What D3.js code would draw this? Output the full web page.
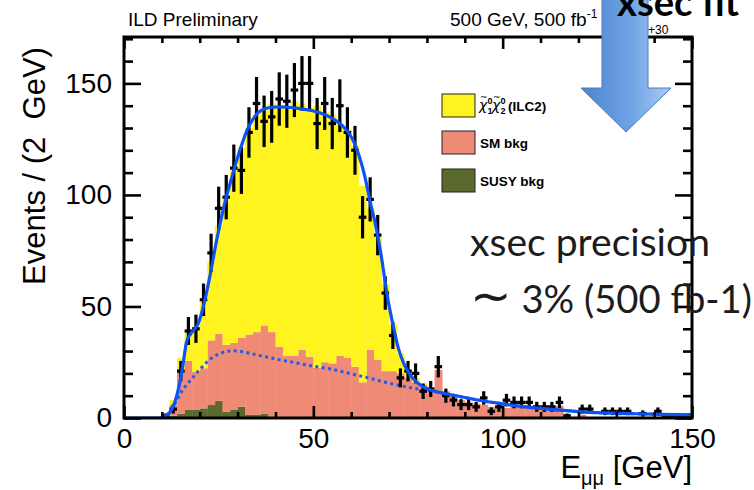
<!DOCTYPE html>
<html>
<head>
<meta charset="utf-8">
<script src="https://cdn.jsdelivr.net/npm/d3@7"></script>
<style>
  html, body { margin: 0; padding: 0; background: #fff; }
  svg { display: block; }
</style>
</head>
<body>
<svg id="chart" width="754" height="490"></svg>
<script>
// ---- Binning: 2 GeV bins covering 0 - 150 GeV ----
const binLow = d3.range(0, 150, 2);

// ---- Stacked MC expectations (events / 2 GeV), one value per bin ----
const susyBkg = [
  0, 0, 0, 0, 0, 0, 1, 2, 3.6, 3.6,
  4.3, 5.8, 7.7, 2.8, 3.6, 5, 1.4, 1.5, 2, 0.5,
  0, 0, 0, 0, 0, 0, 0, 0, 0, 0,
  0, 0, 0, 0, 0, 0, 0, 0, 0, 0,
  0, 0, 0, 0, 0, 0, 0, 0, 0, 0,
  0, 0, 0, 0, 0, 0, 0, 0, 0, 0,
  0, 0, 0, 0, 0, 0, 0, 0, 0, 0,
  0, 0, 0, 0, 0
];
const smBkg = [
  0, 0, 0, 0, 0, 0.5, 5, 20, 22, 17,
  18, 29, 30, 30, 30, 31, 36, 37, 39.5, 38,
  32, 28, 28, 30.5, 27.5, 22.5, 25, 24.5, 28, 27,
  23, 16, 30.5, 26, 21, 21, 20, 18, 16, 15,
  13, 21.5, 12, 10, 8, 7, 6.5, 6, 5, 4.5,
  4.5, 5, 5.5, 5, 4.5, 4.5, 4, 5.5, 0.8, 0.5,
  1.5, 0.4, 0.3, 0, 0, 0, 0, 0, 0, 0,
  0, 0, 0, 0, 0
];
const signal = [
  0, 0, 0, 0, 0.3, 1, 2, 5, 12.4, 20.4,
  29.7, 35.2, 48.3, 66.2, 77.4, 85, 92.6, 97.5, 96.5, 102.5,
  107, 112, 114, 110.5, 111.5, 117.5, 112, 111.5, 104, 102,
  99, 88, 63.5, 55, 39, 21, 9, 4, 2, 0.5,
  0.5, 0, 0, 0, 0, 0, 0, 0, 0, 0,
  0, 0, 0, 0, 0, 0, 0, 0, 0, 0,
  0, 0, 0, 0, 0, 0, 0, 0, 0, 0,
  0, 0, 0, 0, 0
];

// ---- Observed counts per bin (null = empty bin) ----
const dataCounts = [
  null, null, null, null, null, 1, 4, 21, 39, 40,
  53, 74, 94, 99, 112, 111, 128, 141, 133, 135,
  143, 142, 147, 150, 150, 132, 141, 132, 140, 128,
  120, 90, 98, 82, 56, 37, 18, 21, 20, 12,
  13, 23, 10, 8, 6, 6, 5, 9, 3, 5,
  8, 7, 7, 7, 5, 5, 5, 7, 1, null,
  4, 4, null, 3, 3, 3, 3, null, 2, null,
  3, 1, 1, 1, 1
];

// ---- Fit results: signal + background, sampled in E (GeV) ----
const fitTotalE = [0, 9.5, 10.5, 11.5, 12.5, 13.5, 14.5, 15.5, 16.5, 17.5, 18.5, 19.5, 20.5, 21.5, 22.5,
  23.5, 24.5, 25.5, 26.5, 27.5, 28.5, 29.5, 30.5, 31.5, 32.5, 33.5, 34.5, 35.5, 37, 39, 41, 43, 45,
  47, 49, 51, 53, 55, 57, 59, 60.5, 62, 63.5, 65, 66.5, 68, 69.5, 71, 72.5, 74, 75.5, 77, 79, 81,
  84, 87, 90, 95, 100, 105, 110, 115, 120, 125, 130, 135, 140, 145, 150];
const fitTotalV = [0, 0, 0.6, 1.6, 3.5, 7.5, 14, 23, 34, 37.5, 39.5, 42, 47, 54, 62,
  71, 80, 88, 95.5, 102, 108, 114, 119.5, 124.5, 129, 132.5, 135, 137, 138.5, 139.3, 139.5, 139.3, 139,
  138.5, 138, 137.2, 136, 134.3, 132, 128.5, 124.5, 118, 109, 97, 86, 72, 55, 42, 31, 24, 19.5, 16.5, 14, 12.5,
  11.2, 10.2, 9.2, 7.6, 6.3, 5.2, 4.3, 3.5, 2.9, 2.4, 2.1, 1.9, 1.7, 1.5, 1.4];

// ---- Fit results: background component only ----
const fitBkgE = [10, 11, 12, 13, 14, 15, 16.5, 18, 19.5, 21, 22.5, 24, 25.5, 27, 29, 31, 33, 35, 38,
  42, 46, 50, 55, 60, 65, 70, 75, 80, 84, 87, 90, 95, 100, 105, 110, 115, 120, 125, 130, 135, 140, 145, 150];
const fitBkgV = [0, 0.8, 2.5, 5, 8, 11.2, 14.8, 17.8, 20.8, 23.5, 26, 27.8, 29, 29.8, 30.1, 29.8, 29.1, 28.3, 27.2,
  25.8, 24.5, 23.2, 21.8, 19.8, 17.8, 15.6, 13.8, 12.4, 11.2, 10.2, 9.2, 7.6, 6.3, 5.2, 4.3, 3.5, 2.9, 2.4, 2.1, 1.9, 1.7, 1.5, 1.4];

// ---- Axis ticks ----
const xMajorTicks = [0, 50, 100, 150];
const xMinorTicks = [10, 20, 30, 40, 60, 70, 80, 90, 110, 120, 130, 140];
const yMajorTicks = [0, 50, 100, 150];
const yMinorTicks = [10, 20, 30, 40, 60, 70, 80, 90, 110, 120, 130, 140, 160, 170];

// ---- Legend entries ----
const legendKeys = ["sig", "sm", "susy"];
const legendLabels = { sm: "SM bkg", susy: "SUSY bkg" };

const colors = { susy: "#5a6a2e", sm: "#ef8a77", sig: "#fff41f" };
const fitColor = "#0d52f4";
const axisFont = "'Liberation Sans', Arial, Helvetica, sans-serif";
const slideFont = "Lato, 'Open Sans', sans-serif";

const svg = d3.select("#chart");
const x = d3.scaleLinear().domain([0, 150]).range([124, 692]);
const y = d3.scaleLinear().domain([0, 170.8]).range([418, 37]);

const defs = svg.append("defs");
defs.append("clipPath").attr("id", "plotClip")
  .append("rect").attr("x", x(0)).attr("y", y(170.8))
  .attr("width", x(150) - x(0)).attr("height", y(0) - y(170.8));

svg.append("rect").attr("width", 754).attr("height", 490).attr("fill", "#fff");

const plot = svg.append("g").attr("clip-path", "url(#plotClip)");

// ---- Stacked histogram ----
const rows = binLow.map((lo, i) => ({ lo, susy: susyBkg[i], sm: smBkg[i], sig: signal[i] }));
const stacked = d3.stack().keys(["susy", "sm", "sig"])(rows);
const bw = x(2) - x(0);
plot.selectAll("g.layer").data(stacked).join("g")
  .attr("class", "layer")
  .attr("fill", d => colors[d.key])
  .selectAll("rect").data(d => d.filter(s => s[1] > s[0])).join("rect")
  .attr("x", d => x(d.data.lo))
  .attr("width", bw + 0.4)
  .attr("y", d => y(d[1]))
  .attr("height", d => y(d[0]) - y(d[1]));

// ---- Background fit (dotted) ----
const line = d3.line().x(d => x(d[0])).y(d => y(d[1])).curve(d3.curveMonotoneX);
plot.append("path")
  .datum(d3.zip(fitBkgE, fitBkgV))
  .attr("d", line)
  .attr("fill", "none")
  .attr("stroke", "#1f5ee8")
  .attr("stroke-width", 3)
  .attr("stroke-dasharray", "3 3.4");

// ---- Data points with statistical error bars ----
const pts = binLow.map((lo, i) => ({ lo, n: dataCounts[i] })).filter(d => d.n !== null);
const pg = plot.append("g").attr("stroke", "#000").attr("stroke-width", 3.2);
pg.selectAll("line.v").data(pts).join("line")
  .attr("class", "v")
  .attr("x1", d => x(d.lo + 1)).attr("x2", d => x(d.lo + 1))
  .attr("y1", d => y(d.n - Math.sqrt(d.n))).attr("y2", d => y(d.n + Math.sqrt(d.n)));
pg.selectAll("line.h").data(pts).join("line")
  .attr("class", "h")
  .attr("x1", d => x(d.lo)).attr("x2", d => x(d.lo + 2))
  .attr("y1", d => y(d.n)).attr("y2", d => y(d.n));

// ---- Total fit (solid) ----
plot.append("path")
  .datum(d3.zip(fitTotalE, fitTotalV))
  .attr("d", line)
  .attr("fill", "none")
  .attr("stroke", fitColor)
  .attr("stroke-width", 3.2);

// ---- Axes with inward ticks ----
function styleAxis(g) {
  g.select(".domain").remove();
  g.selectAll(".tick line").attr("stroke", "#000").attr("stroke-width", 2.6);
  g.selectAll(".tick text").attr("font-family", axisFont).attr("font-size", 28).attr("fill", "#000");
}
svg.append("g").attr("transform", `translate(0,${y(0)})`)
  .call(d3.axisBottom(x).tickValues(xMajorTicks).tickSize(-12).tickPadding(10).tickFormat(d3.format("d")))
  .call(styleAxis);
svg.append("g").attr("transform", `translate(0,${y(0)})`)
  .call(d3.axisBottom(x).tickValues(xMinorTicks).tickSize(-6).tickFormat(""))
  .call(styleAxis);
svg.append("g").attr("transform", `translate(0,${y(170.8)})`)
  .call(d3.axisTop(x).tickValues(xMajorTicks).tickSize(-12).tickFormat(""))
  .call(styleAxis);
svg.append("g").attr("transform", `translate(0,${y(170.8)})`)
  .call(d3.axisTop(x).tickValues(xMinorTicks).tickSize(-6).tickFormat(""))
  .call(styleAxis);
svg.append("g").attr("transform", `translate(${x(0)},0)`)
  .call(d3.axisLeft(y).tickValues(yMajorTicks).tickSize(-17).tickPadding(12).tickFormat(d3.format("d")))
  .call(styleAxis);
svg.append("g").attr("transform", `translate(${x(0)},0)`)
  .call(d3.axisLeft(y).tickValues(yMinorTicks).tickSize(-9).tickFormat(""))
  .call(styleAxis);
svg.append("g").attr("transform", `translate(${x(150)},0)`)
  .call(d3.axisRight(y).tickValues(yMajorTicks).tickSize(-17).tickFormat(""))
  .call(styleAxis);
svg.append("g").attr("transform", `translate(${x(150)},0)`)
  .call(d3.axisRight(y).tickValues(yMinorTicks).tickSize(-9).tickFormat(""))
  .call(styleAxis);

// Frame
svg.append("rect")
  .attr("x", x(0)).attr("y", y(170.8))
  .attr("width", x(150) - x(0)).attr("height", y(0) - y(170.8))
  .attr("fill", "none").attr("stroke", "#000").attr("stroke-width", 3);

// ---- Axis titles ----
svg.append("text")
  .attr("transform", "translate(45,166) rotate(-90)")
  .attr("text-anchor", "middle")
  .attr("font-family", axisFont).attr("font-size", 31)
  .style("white-space", "pre")
  .text("Events / (2  GeV)");

const xt = svg.append("text")
  .attr("x", x(150)).attr("y", 478)
  .attr("text-anchor", "end")
  .attr("font-family", axisFont).attr("font-size", 31);
xt.append("tspan").text("E");
xt.append("tspan").attr("font-size", 20).attr("dy", 7).text("μμ");
xt.append("tspan").attr("dy", -7).style("white-space", "pre").text(" [GeV]");

// ---- Header texts ----
svg.append("text")
  .attr("x", 128).attr("y", 26)
  .attr("font-family", axisFont).attr("font-size", 19)
  .text("ILD Preliminary");
const hdr = svg.append("text")
  .attr("x", 450).attr("y", 26)
  .attr("font-family", axisFont).attr("font-size", 19);
hdr.append("tspan").text("500 GeV, 500 fb");
hdr.append("tspan").attr("font-size", 12).attr("dy", -8).text("-1");
svg.append("text")
  .attr("x", 648).attr("y", 34)
  .attr("font-family", axisFont).attr("font-size", 12)
  .text("+30");

// ---- Legend ----
const legY = { sig: 94, sm: 131, susy: 169 };
const leg = svg.append("g");
leg.selectAll("rect").data(legendKeys).join("rect")
  .attr("x", 442).attr("y", d => legY[d])
  .attr("width", 33).attr("height", 23)
  .attr("fill", d => colors[d])
  .attr("stroke", "#222").attr("stroke-width", 1);
leg.selectAll("text.lab").data(legendKeys.filter(k => legendLabels[k])).join("text")
  .attr("class", "lab")
  .attr("x", 480).attr("y", d => legY[d] + 17)
  .attr("font-family", axisFont).attr("font-weight", "bold").attr("font-size", 13.5)
  .text(d => legendLabels[d]);

// Signal label: neutralino pair with tildes, super- and subscripts
const sy = legY.sig + 16;
const chiParts = [
  { x: 479, sub: "1" },
  { x: 492, sub: "2" }
];
chiParts.forEach(p => {
  leg.append("text").attr("x", p.x).attr("y", sy)
    .attr("font-family", "'DejaVu Sans', sans-serif").attr("font-style", "italic").attr("font-size", 14)
    .text("χ");
  leg.append("text").attr("x", p.x + 1).attr("y", sy - 10)
    .attr("font-family", "'DejaVu Sans', sans-serif").attr("font-size", 9)
    .text("~");
  leg.append("text").attr("x", p.x + 8.5).attr("y", sy - 6.5)
    .attr("font-family", axisFont).attr("font-weight", "bold").attr("font-size", 9)
    .text("0");
  leg.append("text").attr("x", p.x + 8.5).attr("y", sy + 4)
    .attr("font-family", axisFont).attr("font-weight", "bold").attr("font-size", 9)
    .text(p.sub);
});
leg.append("text").attr("x", 508).attr("y", sy + 1)
  .attr("font-family", axisFont).attr("font-weight", "bold").attr("font-size", 13.5)
  .text("(ILC2)");

// ---- Slide annotation: arrow and cross-section notes ----
const grad = defs.append("linearGradient").attr("id", "arrowGrad")
  .attr("x1", "0").attr("x2", "1").attr("y1", "0").attr("y2", "0");
grad.append("stop").attr("offset", "0%").attr("stop-color", "#4d84cf");
grad.append("stop").attr("offset", "55%").attr("stop-color", "#6fa3e5");
grad.append("stop").attr("offset", "100%").attr("stop-color", "#a9cbf3");
const arrowShape = [[602, -6], [648, -6], [648, 88], [671, 88], [626, 132], [581, 88], [602, 88]];
svg.append("path")
  .attr("d", d3.line()(arrowShape) + "Z")
  .attr("fill", "url(#arrowGrad)")
  .attr("stroke", "#4a7bc2").attr("stroke-width", 1);

function fitWidth(sel, target) {
  const fs = +sel.attr("font-size");
  const w = sel.node().getComputedTextLength();
  if (w > 0) sel.attr("font-size", fs * target / w);
  return sel;
}

fitWidth(svg.append("text")
  .attr("x", 617).attr("y", 16)
  .attr("font-family", slideFont).attr("font-weight", 700).attr("font-size", 34)
  .attr("fill", "#000")
  .text("xsec fit"), 122);

fitWidth(svg.append("text")
  .attr("x", 470).attr("y", 256)
  .attr("font-family", slideFont).attr("font-size", 40)
  .attr("fill", "#1c1c1c")
  .text("xsec precision"), 240);

const prec = svg.append("text")
  .attr("x", 470).attr("y", 313)
  .attr("font-family", slideFont).attr("font-size", 36)
  .attr("fill", "#1c1c1c")
  .style("white-space", "pre");
prec.append("tspan").attr("font-size", "1.3em").attr("font-family", "'DejaVu Sans', sans-serif").text("∼");
prec.append("tspan").text(" 3% (500 fb-1)");
fitWidth(prec, 282);
</script>
</body>
</html>
